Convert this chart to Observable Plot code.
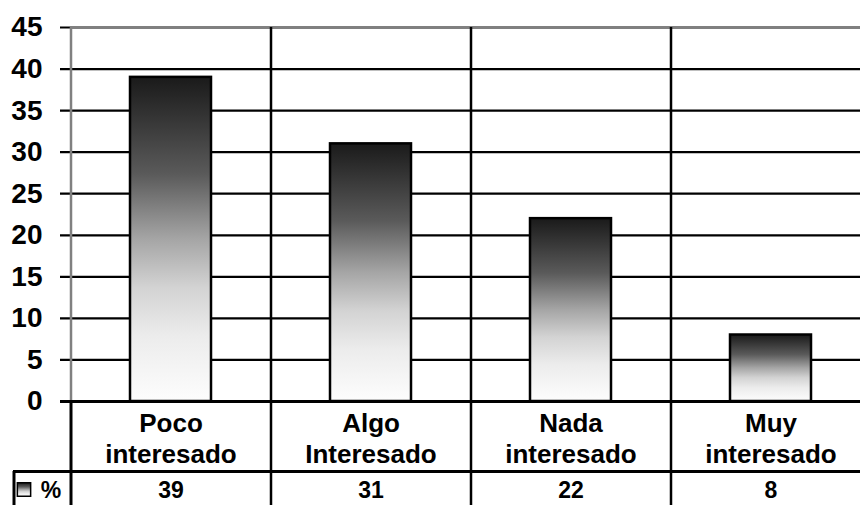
<!DOCTYPE html>
<html>
<head>
<meta charset="utf-8">
<script src="https://cdn.jsdelivr.net/npm/d3@7"></script>
<script src="https://cdn.jsdelivr.net/npm/@observablehq/plot@0.6"></script>
<style>
  html, body { margin: 0; padding: 0; background: #fff; }
  #chart svg { display: block; }
</style>
</head>
<body>
<div id="chart"></div>
<script>
// ---- data ----
const categories = ["Poco\ninteresado", "Algo\nInteresado", "Nada\ninteresado", "Muy\ninteresado"];
const values = [39, 31, 22, 8];
const yTicks = [0, 5, 10, 15, 20, 25, 30, 35, 40, 45];
const seriesName = "%";

const data = categories.map((c, i) => ({cat: c, value: values[i]}));

// ---- layout constants ----
const W = 860, H = 505;
const mL = 70, mT = 27, mB = 104;
const plotRight = 870;             // plot area runs slightly past the window
const step = (plotRight - mL) / categories.length; // column width
const half = step / 2;
const font = "'Liberation Sans', Arial, sans-serif";

const chart = Plot.plot({
  width: W,
  height: H,
  marginLeft: mL,
  marginRight: 0,
  marginTop: mT,
  marginBottom: mB,
  style: {fontFamily: font, fontSize: "28px", fontWeight: "bold", color: "#000", background: "#fff"},
  x: {domain: categories, range: [mL, plotRight], paddingInner: 0.595, paddingOuter: 0.2975, axis: null},
  y: {domain: [0, 45], ticks: yTicks, tickSize: 0, tickPadding: 28, label: null, tickFormat: d => String(d)},
  marks: [
    // horizontal gridlines + left tick marks
    Plot.ruleY(yTicks, {stroke: "#000", strokeWidth: 2.2, insetLeft: -10}),
    // top plot border (gray)
    Plot.ruleY([45], {stroke: "#808080", strokeWidth: 3}),
    // left plot border (gray)
    Plot.ruleX([categories[0]], {dx: -half, stroke: "#808080", strokeWidth: 2.5}),
    // vertical column dividers through plot and table
    Plot.ruleX(categories.slice(1), {dx: -half, stroke: "#000", strokeWidth: 2.5, insetBottom: -mB}),
    // bars
    Plot.barY(data, {x: "cat", y: "value", fill: "url(#barGrad)", stroke: "#000", strokeWidth: 2.5}),
    // baseline / table top
    Plot.ruleY([0], {stroke: "#000", strokeWidth: 3, insetLeft: -10}),
    // table left border at plot edge
    Plot.ruleX([categories[0]], {dx: -half, stroke: "#000", strokeWidth: 3, insetTop: H - mT - mB, insetBottom: -mB}),
    // table row separator
    Plot.ruleY([0], {dy: 70, stroke: "#000", strokeWidth: 3, insetLeft: -57}),
    // table far-left border
    Plot.ruleX([categories[0]], {dx: -half - 57, stroke: "#000", strokeWidth: 3, insetTop: H - mT - mB + 70, insetBottom: -mB}),
    // category labels
    Plot.text(data, {x: "cat", y: 0, text: "cat", dy: 8, lineAnchor: "top", lineHeight: 1.2,
      fontSize: 26, fontWeight: "bold", fill: "#000"}),
    // data table values
    Plot.text(data, {x: "cat", y: 0, text: d => String(d.value), dy: 80, lineAnchor: "top",
      fontSize: 23, fontWeight: "bold", fill: "#000"}),
    // legend key
    Plot.dot([categories[0]], {x: d => d, y: 0, dx: -half - 47, dy: 88, symbol: "square", r: 7.5,
      fill: "url(#keyGrad)", stroke: "#000", strokeWidth: 1.5}),
    Plot.text([seriesName], {x: () => categories[0], y: 0, text: d => d, dx: -half - 20, dy: 80, lineAnchor: "top",
      fontSize: 23, fontWeight: "bold", fill: "#000"})
  ]
});

const stops = [
  [0, "#1a1a1a"], [0.3, "#5a5a5a"], [0.5, "#a5a5a5"], [0.65, "#d3d3d3"], [0.8, "#ececec"], [1, "#fdfdfd"]
];
const defs = d3.select(chart).insert("defs", ":first-child");
for (const id of ["barGrad", "keyGrad"]) {
  const g = defs.append("linearGradient").attr("id", id).attr("x1", 0).attr("y1", 0).attr("x2", 0).attr("y2", 1);
  for (const [o, c] of stops) g.append("stop").attr("offset", o).attr("stop-color", c);
}
document.getElementById("chart").appendChild(chart);
</script>
</body>
</html>
